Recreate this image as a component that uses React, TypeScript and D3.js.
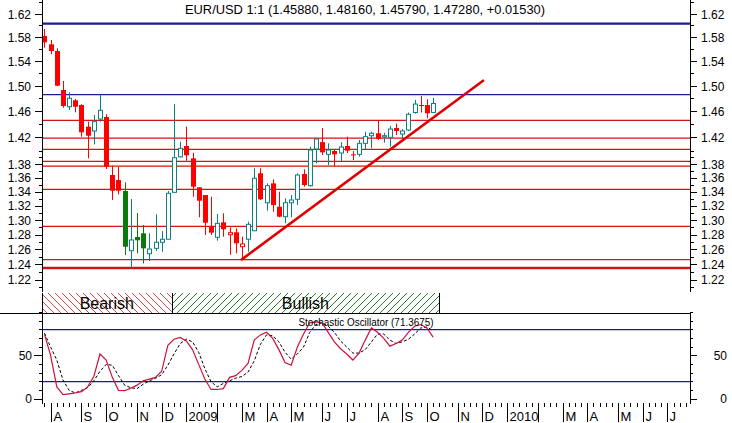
import React from 'react';
import * as d3 from 'd3';

// ---- data (weekly EUR/USD bars, Fridays starting 2008-07-25) ----
const candleOpen = [1.5827,1.5688,1.5576,1.4941,1.4677,1.4778,1.4704,1.4368,1.4302,1.4486,1.4517,1.3646,1.3573,1.3415,1.2587,1.2773,1.2823,1.2547,1.2619,1.2701,1.2742,1.3396,1.3913,1.4075,1.3891,1.3468,1.3358,1.2923,1.2769,1.2974,1.2804,1.2837,1.2641,1.2742,1.2858,1.3671,1.3248,1.3525,1.3192,1.3052,1.3248,1.3297,1.3661,1.3491,1.4030,1.4134,1.3950,1.4000,1.3970,1.4075,1.3950,1.3950,1.4115,1.4230,1.4267,1.4211,1.4206,1.4348,1.4256,1.4317,1.4587,1.4704,1.4704,1.4588];
const candleHigh = [1.5946,1.5760,1.5621,1.5086,1.4904,1.4799,1.4715,1.4445,1.4548,1.4873,1.4560,1.3782,1.3767,1.3540,1.3301,1.3104,1.2937,1.2823,1.3086,1.2854,1.3415,1.4718,1.4139,1.4368,1.3974,1.3468,1.3358,1.3334,1.3090,1.3100,1.2905,1.2891,1.2777,1.2983,1.3744,1.3744,1.3525,1.3583,1.3405,1.3311,1.3358,1.3671,1.3729,1.4064,1.4195,1.4348,1.4115,1.4015,1.4134,1.4216,1.4000,1.4165,1.4291,1.4291,1.4471,1.4276,1.4379,1.4415,1.4332,1.4587,1.4783,1.4846,1.4794,1.4816];
const candleLow = [1.5631,1.5522,1.5005,1.4662,1.4626,1.4590,1.4215,1.3891,1.4100,1.4445,1.3734,1.3287,1.3368,1.2529,1.2352,1.2552,1.2418,1.2450,1.2583,1.2573,1.2742,1.3396,1.3903,1.3856,1.3334,1.3044,1.2800,1.2800,1.2722,1.2777,1.2533,1.2552,1.2486,1.2573,1.2858,1.3287,1.3136,1.3122,1.3044,1.2960,1.3044,1.3216,1.3477,1.3477,1.3816,1.3940,1.3792,1.3767,1.3851,1.3970,1.3866,1.3915,1.4015,1.4040,1.4165,1.4124,1.4064,1.4241,1.4165,1.4302,1.4569,1.4587,1.4497,1.4579];
const candleClose = [1.5721,1.5576,1.5010,1.4688,1.4810,1.4677,1.4282,1.4230,1.4445,1.4621,1.3767,1.3419,1.3419,1.2641,1.2732,1.2728,1.2619,1.2610,1.2701,1.2742,1.3382,1.3900,1.4040,1.3936,1.3477,1.3277,1.2969,1.2832,1.2960,1.2878,1.2832,1.2687,1.2678,1.2947,1.3598,1.3297,1.3491,1.3216,1.3052,1.3248,1.3287,1.3646,1.3501,1.4015,1.4180,1.3980,1.4015,1.3950,1.4060,1.4005,1.3940,1.4115,1.4216,1.4267,1.4180,1.4231,1.4332,1.4302,1.4302,1.4560,1.4719,1.4688,1.4575,1.4728];
// d = red filled, u = teal hollow, g = green filled, r = red hollow
const candleStyle = ['d','d','d','d','u','d','d','d','u','u','d','d','d','g','u','g','g','u','u','u','u','u','u','d','d','d','d','d','u','d','r','d','r','u','u','d','u','d','d','u','u','u','d','u','u','d','u','d','u','d','d','u','u','u','d','u','u','d','u','u','u','d','d','u'];

const stochK = [75,50,14,5,6,7,8.5,14,26,52,45,25,10,9.6,12.5,16,21,23,25,32,62,69,71,67,57,40,23,11,11,12,25,27,33,41,68,74,77,70,57,42,39,60,75,88,89,88,77,66,58,52,45,53,68,82,77,70,61,64,68,77,84,86,82,71.37];
const stochD = [76,60,45,22,10,7,10,13,21,32,40,39,27,16,13,12,17,21,24,28,39,52,64,69,66,54,35,20,14,18,21,24,26,31,44,63,74,73,66,54,46,52,60,77,86,88,84,77,67,60,53,53,57,66,75,75,68,64,66,69,75,82,83,79];

const blueLevels = [1.6037, 1.4867];
const redLevels = [1.4466, 1.4195, 1.4024, 1.3845, 1.3777, 1.3439, 1.2919, 1.2467];
const supportLevel = 1.2357;
const trendStart = { bar: 32, price: 1.2472 };
const trendEnd = { bar: 71.1, price: 1.509 };

const priceLabels = [1.62, 1.58, 1.54, 1.50, 1.46, 1.42, 1.38, 1.36, 1.34, 1.32, 1.30, 1.28, 1.26, 1.24, 1.22];
const stochLabels = [0, 50];
const stochLevels = [80, 20];
const monthLetters = ['J', 'F', 'M', 'A', 'M', 'J', 'J', 'A', 'S', 'O', 'N', 'D'];
const phases = [
  { label: 'Bearish', from: -0.4, to: 20.6, pattern: 'hatchRed' },
  { label: 'Bullish', from: 20.6, to: 64, pattern: 'hatchGreen' },
];
const titleText = 'EUR/USD 1:1 (1.45880, 1.48160, 1.45790, 1.47280, +0.01530)';
const stochTitle = 'Stochastic Oscillator (71.3675)';

const FONT = 'Liberation Sans, Arial, sans-serif';

export default function App() {
  const W = 732, H = 423;
  const left = 42, right = 690;
  const x = d3.scaleLinear().domain([-0.4, 104.65]).range([left, right]);
  const y = d3.scaleLog().domain([1.22, 1.62]).range([280, 14.2]);
  const ys = d3.scaleLinear().domain([0, 100]).range([399, 312.4]);

  const fridays = d3.timeFriday.range(new Date(2008, 6, 25), new Date(2010, 7, 8));
  const nBars = 105;
  const dates = fridays.slice(0, nBars);
  const monthTicks: { i: number; label: string }[] = [];
  for (let i = 1; i < dates.length; i++) {
    if (dates[i].getMonth() !== dates[i - 1].getMonth()) {
      const m = dates[i].getMonth();
      const label = m === 0 ? String(dates[i].getFullYear()) : m === 1 ? '' : monthLetters[m];
      monthTicks.push({ i, label });
    }
  }

  const minorPrice = [
    ...d3.range(121, 141, 1).map((v) => v / 100),
    ...d3.range(142, 166, 2).map((v) => v / 100),
  ];
  const stochTickVals = d3.range(0, 101, 10);

  const red = '#ff0000';
  const teal = '#0a8080';
  const green = '#0a7a0a';
  const lineRed = '#d01515';
  const blue = '#1c1c96';

  const kLine = d3.line<number>().x((_, i) => x(i)).y((d) => ys(d))(stochK) || '';
  const dLine = d3.line<number>().x((_, i) => x(i)).y((d) => ys(d))(stochD) || '';

  return (
    <svg width={W} height={H} style={{ position: 'absolute', left: 0, top: 0, background: '#fff' }}
      fontFamily={FONT}>
      <defs>
        <pattern id="hatchRed" width={7} height={7} patternUnits="userSpaceOnUse">
          <path d="M-1,-1 L8,8 M-1,6 L1,8 M6,-1 L8,1" stroke="#d04848" strokeWidth={1} />
        </pattern>
        <pattern id="hatchGreen" width={7} height={7} patternUnits="userSpaceOnUse">
          <path d="M-1,8 L8,-1 M-1,1 L1,-1 M6,8 L8,6" stroke="#2a7a2a" strokeWidth={1} />
        </pattern>
      </defs>
      <rect x={0} y={0} width={W} height={H} fill="#fff" />

      {/* title */}
      <text x={365} y={13.5} fontSize={13} textAnchor="middle" fill="#000" textLength={360} lengthAdjust="spacingAndGlyphs">{titleText}</text>

      {/* horizontal levels */}
      {redLevels.map((v, k) => (
        <line key={'r' + k} x1={left} x2={right} y1={y(v)} y2={y(v)} stroke={lineRed} strokeWidth={1.2} />
      ))}
      <line x1={left} x2={right} y1={y(supportLevel)} y2={y(supportLevel)} stroke={lineRed} strokeWidth={2.6} />
      <line x1={left} x2={right} y1={y(blueLevels[0])} y2={y(blueLevels[0])} stroke={blue} strokeWidth={2.2} />
      <line x1={left} x2={right} y1={y(blueLevels[1])} y2={y(blueLevels[1])} stroke={blue} strokeWidth={1.2} />

      {/* candles */}
      {candleOpen.map((o, i) => {
        const c = candleClose[i];
        const hi = candleHigh[i];
        const lo = candleLow[i];
        const st = candleStyle[i];
        const cx = Math.round(x(i)) + 0.5;
        const top = y(Math.max(o, c));
        const bot = y(Math.min(o, c));
        const col = st === 'u' ? teal : st === 'g' ? green : red;
        const hollow = st === 'u' || st === 'r';
        const h = Math.max(1, bot - top);
        return (
          <g key={'c' + i}>
            <line x1={cx} x2={cx} y1={y(hi)} y2={y(lo)} stroke={col} strokeWidth={1} />
            {hollow ? (
              <rect x={cx - 2} y={top} width={4} height={h} fill="#fff" stroke={col} strokeWidth={1} />
            ) : (
              <rect x={cx - 2.5} y={top} width={5} height={h} fill={col} />
            )}
          </g>
        );
      })}

      {/* trend line */}
      <line x1={x(trendStart.bar)} y1={y(trendStart.price)} x2={x(trendEnd.bar)} y2={y(trendEnd.price)}
        stroke="#e00000" strokeWidth={2.6} strokeLinecap="round" />

      {/* price axes */}
      <g shapeRendering="crispEdges">
        <line x1={left} x2={left} y1={0} y2={291.5} stroke="#000" />
        <line x1={right} x2={right} y1={0} y2={291.5} stroke="#000" />
        {minorPrice.map((v, k) => (
          <g key={'mp' + k}>
            <line x1={left - 3} x2={left} y1={y(v)} y2={y(v)} stroke="#000" />
            <line x1={right} x2={right + 4} y1={y(v)} y2={y(v)} stroke="#000" />
          </g>
        ))}
        {priceLabels.map((v, k) => (
          <g key={'pl' + k}>
            <line x1={left - 7} x2={left} y1={y(v)} y2={y(v)} stroke="#000" />
            <line x1={right} x2={right + 7} y1={y(v)} y2={y(v)} stroke="#000" />
          </g>
        ))}
      </g>
      {priceLabels.map((v, k) => (
        <g key={'pt' + k} fontSize={12} fill="#000">
          <text x={31} y={y(v)} dy="0.36em" textAnchor="end">{d3.format('.2f')(v)}</text>
          <text x={701} y={y(v)} dy="0.36em" textAnchor="start">{d3.format('.2f')(v)}</text>
        </g>
      ))}

      {/* phase band */}
      {phases.map((p, k) => (
        <g key={'ph' + k}>
          <rect x={x(p.from)} y={293} width={x(p.to) - x(p.from)} height={20} fill={`url(#${p.pattern})`} />
          <text x={(x(p.from) + x(p.to)) / 2} y={308.5} fontSize={16} textAnchor="middle" fill="#000">{p.label}</text>
        </g>
      ))}
      <g shapeRendering="crispEdges">
        {[phases[0].from, phases[0].to, phases[1].to].map((b, k) => (
          <line key={'pb' + k} x1={Math.round(x(b))} x2={Math.round(x(b))} y1={293} y2={313} stroke="#000" />
        ))}
        <line x1={0} x2={right} y1={313} y2={313} stroke="#000" />
      </g>

      {/* stochastic panel */}
      {stochLevels.map((v, k) => (
        <line key={'sl' + k} x1={left} x2={right} y1={ys(v)} y2={ys(v)} stroke={blue} strokeWidth={1.3} />
      ))}
      <path d={dLine} fill="none" stroke="#000" strokeWidth={1} strokeDasharray="3,2" />
      <path d={kLine} fill="none" stroke="#d0103c" strokeWidth={1.2} />
      <text x={366} y={325.5} fontSize={10} textAnchor="middle" fill="#000" textLength={135} lengthAdjust="spacingAndGlyphs">{stochTitle}</text>

      <g shapeRendering="crispEdges">
        <line x1={left} x2={left} y1={313} y2={404} stroke="#000" />
        <line x1={right} x2={right} y1={313} y2={404} stroke="#000" />
        {stochTickVals.map((v, k) => {
          const long = stochLabels.includes(v);
          return (
            <g key={'st' + k}>
              <line x1={left - (long ? 8 : 3)} x2={left} y1={ys(v)} y2={ys(v)} stroke="#000" />
              <line x1={right} x2={right + (long ? 7 : 3)} y1={ys(v)} y2={ys(v)} stroke="#000" />
            </g>
          );
        })}
        {/* time axis */}
        {d3.range(0, nBars).map((i) => (
          <line key={'tm' + i} x1={Math.round(x(i))} x2={Math.round(x(i))} y1={403} y2={407} stroke="#000" />
        ))}
        {monthTicks.map((t, k) => (
          <line key={'tM' + k} x1={Math.round(x(t.i))} x2={Math.round(x(t.i))} y1={403} y2={422} stroke="#000" />
        ))}
      </g>
      {stochLabels.map((v, k) => (
        <g key={'sx' + k} fontSize={12} fill="#000">
          <text x={32} y={ys(v)} dy="0.36em" textAnchor="end">{v}</text>
          <text x={727} y={ys(v)} dy="0.36em" textAnchor="end">{v}</text>
        </g>
      ))}
      {monthTicks.map((t, k) => (
        <text key={'ml' + k} x={Math.round(x(t.i)) + 2.5} y={420.5} fontSize={13} fill="#000">{t.label}</text>
      ))}
    </svg>
  );
}
